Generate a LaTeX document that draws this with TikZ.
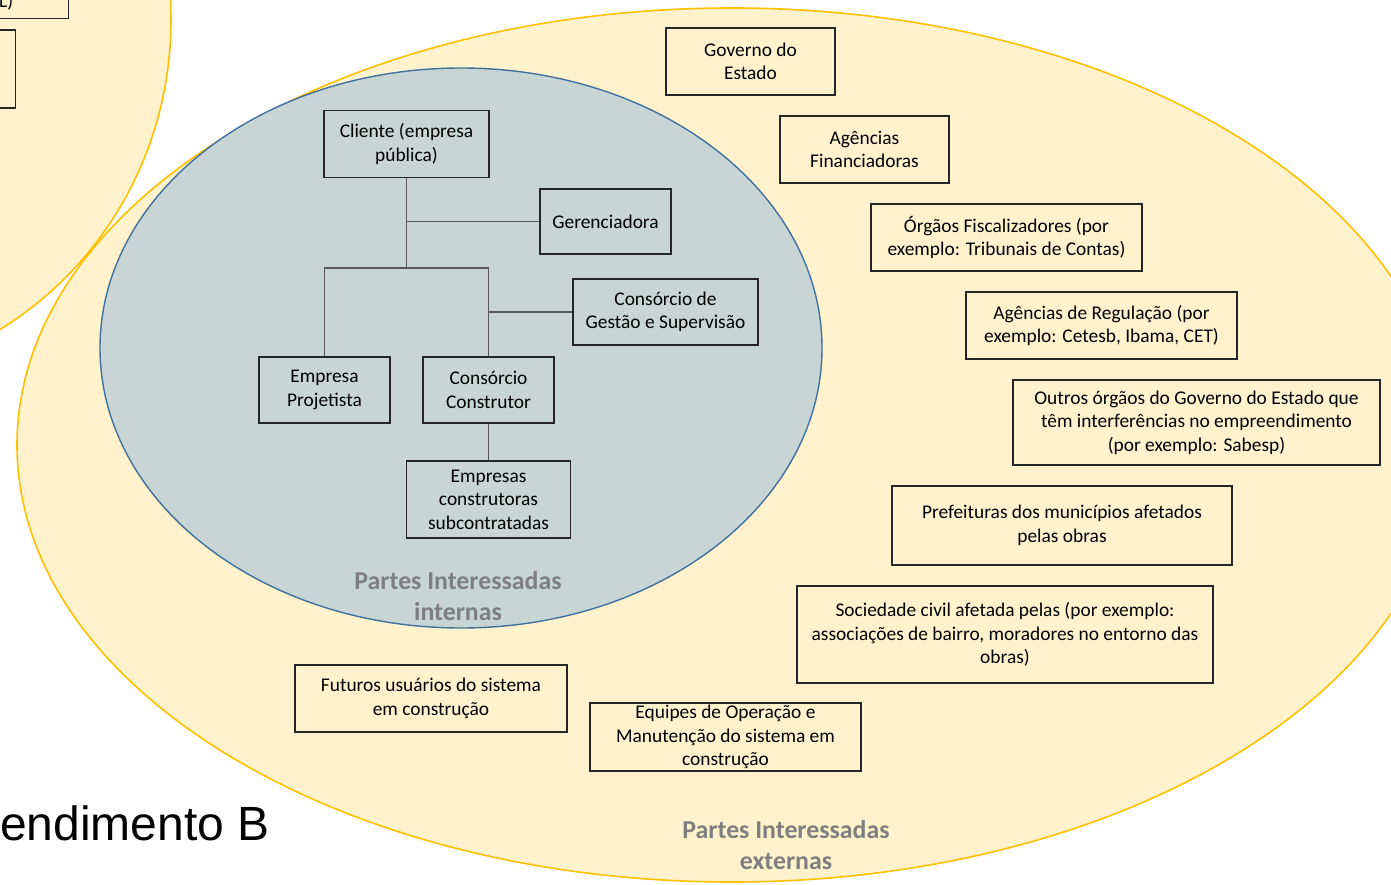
\documentclass[tikz,border=0pt]{standalone}
\usepackage{fontspec}
\setmainfont{Carlito}
\newfontfamily\arialfont{Liberation Sans}
\definecolor{ylfill}{HTML}{FFF2CC}
\definecolor{ylborder}{HTML}{FFC000}
\definecolor{infill}{HTML}{C7D5D5}
\definecolor{inborder}{HTML}{41719C}
\definecolor{lblgray}{HTML}{7F7F7F}
\definecolor{boxline}{HTML}{262626}
\definecolor{connline}{HTML}{595959}
\begin{document}
\begin{tikzpicture}[x=1pt,y=-1pt,
  stakebox/.style={draw=boxline, line width=1.3pt, inner sep=0pt, align=center,
    font=\fontsize{19.4}{23.5}\selectfont},
  conn/.style={draw=connline, line width=1.1pt},
  grouplabel/.style={text=lblgray, font=\fontsize{25.8}{31}\selectfont\bfseries,
    align=center, inner sep=0pt},
  outerell/.style={fill=ylfill, draw=ylborder, line width=1.6pt},
  innerell/.style={fill=infill, draw=inborder, line width=1.4pt}]
\useasboundingbox (0,0) rectangle (1391,885);
\clip (0,0) rectangle (1391,885);
\fill[white] (0,0) rectangle (1391,885);

% ellipses
\path[outerell] (-179,20) ellipse [x radius=350pt, y radius=360pt];
\path[outerell] (731.5,445) ellipse [x radius=714.5pt, y radius=437pt];
\path[innerell] (461,348) ellipse [x radius=361pt, y radius=280pt];

% partial boxes from the previous diagram (top left)
\node[stakebox, minimum width=80pt, minimum height=30pt, anchor=south east] (prevA) at (69,19) {};
\node[anchor=base west, inner sep=0pt, font=\fontsize{19.4}{23.5}\selectfont] (prevAtxt) at (-1,8) {L)};
\node[stakebox, minimum width=30pt, minimum height=78pt, anchor=east] (prevB) at (16,69) {};

% internal stakeholders
\node[stakebox, minimum width=165pt, minimum height=67pt] (cliente) at (406.5,144) {Cliente (empresa\\pública)};
\node[stakebox, minimum width=131pt, minimum height=65pt] (geren) at (605.5,221.5) {Gerenciadora};
\node[stakebox, minimum width=185pt, minimum height=66pt] (cgs) at (665.5,312) {Consórcio de\\Gestão e Supervisão};
\node[stakebox, minimum width=131pt, minimum height=66pt] (proj) at (324.5,390) {Empresa\\Projetista};
\node[stakebox, minimum width=131pt, minimum height=66pt] (constr) at (488.5,390) {Consórcio\\Construtor};
\node[stakebox, minimum width=164pt, minimum height=77pt] (subc) at (488.5,499.5) {Empresas\\construtoras\\subcontratadas};

\coordinate (junc) at (406.5,268);
\draw[conn] (cliente.south) -- (junc);
\draw[conn] (geren.west) -- (cliente.south |- geren.west);
\draw[conn] (proj.north) -- (proj.north |- junc) -- (constr.north |- junc) -- (constr.north);
\draw[conn] (cgs.west) -- (constr.north |- cgs.west);
\draw[conn] (constr.south) -- (subc.north);

% external stakeholders
\node[stakebox, minimum width=169pt, minimum height=67pt] (gov) at (750.5,61.5) {Governo do\\Estado};
\node[stakebox, minimum width=169pt, minimum height=67pt] (agfin) at (864.5,149.5) {Agências\\Financiadoras};
\node[stakebox, minimum width=271pt, minimum height=67pt] (orgfisc) at (1006.5,237.5) {Órgãos Fiscalizadores (por\\exemplo: Tribunais de Contas)};
\node[stakebox, minimum width=271pt, minimum height=67pt] (agreg) at (1101.5,325.5) {Agências de Regulação (por\\exemplo: Cetesb, Ibama, CET)};
\node[stakebox, minimum width=367pt, minimum height=85pt] (outros) at (1196.5,422.5) {Outros órgãos do Governo do Estado que\\têm interferências no empreendimento\\(por exemplo: Sabesp)};
\node[stakebox, minimum width=340pt, minimum height=79pt] (pref) at (1062,525.5) {Prefeituras dos municípios afetados\\pelas obras};
\node[stakebox, minimum width=416pt, minimum height=97pt] (soc) at (1005,634.5) {Sociedade civil afetada pelas (por exemplo:\\associações de bairro, moradores no entorno das\\obras)};
\node[stakebox, minimum width=272pt, minimum height=67pt] (fut) at (431,698.5) {Futuros usuários do sistema\\em construção};
\node[stakebox, minimum width=271pt, minimum height=68pt] (equip) at (725.5,737) {Equipes de Operação e\\Manutenção do sistema em\\construção};

% group labels
\node[grouplabel] (intlbl) at (458,596) {Partes Interessadas\\internas};
\node[grouplabel] (extlbl) at (786,845) {Partes Interessadas\\externas};

\node[anchor=base west, inner sep=0pt, font=\arialfont\fontsize{48}{50}\selectfont] (empb) at (0,840) {endimento B};
\end{tikzpicture}
\end{document}
